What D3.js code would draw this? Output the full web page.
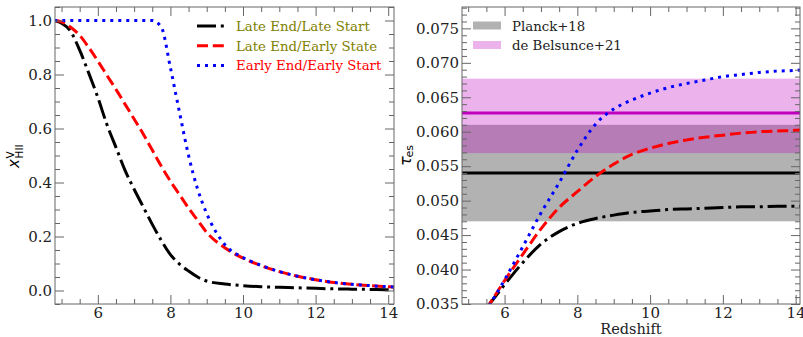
<!DOCTYPE html>
<html>
<meta charset="utf-8">
<title>Reionization histories</title>
<style>
body { margin: 0; background: #fff; }
svg { font-family: "DejaVu Serif", serif; }
.axis path, .axis line { stroke: #666; }
.axis text { font-size: 15px; fill: #222; font-family: "DejaVu Serif", serif; }
</style>
<body>
<svg></svg>
<script src="https://d3js.org/d3.v7.min.js"></script>
<script>

// left panel: volume-averaged ionized fraction
var zLeft = [4.8, 5.0, 5.25, 5.5, 5.75, 6.0, 6.25, 6.5, 6.75, 7.0, 7.25, 7.5, 7.75, 8.0, 8.25, 8.5, 8.75, 9.0, 9.5, 10, 10.5, 11, 11.5, 12, 12.5, 13, 13.5, 14, 14.2];
var xLateLate = [1.0, 0.99, 0.96, 0.89, 0.805, 0.715, 0.615, 0.53, 0.445, 0.375, 0.31, 0.245, 0.185, 0.133, 0.098, 0.072, 0.05, 0.035, 0.024, 0.018, 0.014, 0.012, 0.01, 0.008, 0.006, 0.005, 0.004, 0.003, 0.003];
var xLateEarly = [1.0, 0.995, 0.975, 0.945, 0.9, 0.85, 0.797, 0.745, 0.69, 0.635, 0.58, 0.52, 0.46, 0.405, 0.355, 0.305, 0.26, 0.215, 0.158, 0.12, 0.092, 0.07, 0.053, 0.04, 0.03, 0.023, 0.018, 0.014, 0.013];
var xEarlyEarly = [1.0, 1.0, 1.0, 1.0, 1.0, 1.0, 1.0, 1.0, 1.0, 1.0, 1.0, 1.0, 0.975, 0.825, 0.66, 0.5, 0.375, 0.285, 0.17, 0.122, 0.093, 0.07, 0.053, 0.04, 0.03, 0.023, 0.018, 0.014, 0.013];

// right panel: Thomson optical depth
var zRight = [5.0, 5.5, 6.0, 6.5, 7.0, 7.5, 8.0, 8.5, 9.0, 9.5, 10, 10.5, 11, 11.5, 12, 12.5, 13, 13.5, 14, 14.2];
var tauLateLate = [0.0310, 0.0344, 0.0378, 0.0410, 0.0437, 0.0455, 0.0467, 0.0474, 0.0479, 0.0483, 0.0485, 0.0487, 0.0488, 0.0489, 0.0490, 0.0491, 0.0491, 0.0492, 0.0492, 0.0492];
var tauLateEarly = [0.0305, 0.0343, 0.0384, 0.0422, 0.0459, 0.0490, 0.0513, 0.0535, 0.0553, 0.0567, 0.0576, 0.0583, 0.0588, 0.0592, 0.0595, 0.0598, 0.0600, 0.0601, 0.0602, 0.0603];
var tauEarlyEarly = [0.0298, 0.0341, 0.0385, 0.0433, 0.0482, 0.0526, 0.0573, 0.0611, 0.0633, 0.0646, 0.0656, 0.0664, 0.0670, 0.0675, 0.0680, 0.0683, 0.0686, 0.0688, 0.0689, 0.0690];

// [low, mid, high]
var planck18 = [0.047, 0.054, 0.061];
var belsunce21 = [0.0569, 0.0627, 0.0677];

var seriesNames = ["Late End/Late Start", "Late End/Early State", "Early End/Early Start"];
var seriesColors = ["black", "red", "blue"];
var seriesTextColors = ["#808000", "#808000", "red"];
var seriesDash = ["19,4.8,3,4.8", "11,4.8", "3,5"];
var bandNames = ["Planck+18", "de Belsunce+21"];

var xTicks = [6, 8, 10, 12, 14];
var leftYTicks = [0.0, 0.2, 0.4, 0.6, 0.8, 1.0];
var rightYTicks = [0.035, 0.040, 0.045, 0.050, 0.055, 0.060, 0.065, 0.070, 0.075];

var svg = d3.select("svg").attr("width", 803).attr("height", 337);

var left = {x0: 55, x1: 394, y0: 7, y1: 304};
var right = {x0: 462, x1: 800, y0: 7, y1: 304};

var xL = d3.scaleLinear().domain([4.82, 14.16]).range([left.x0, left.x1]);
var yL = d3.scaleLinear().domain([-0.05, 1.05]).range([left.y1, left.y0]);
var xR = d3.scaleLinear().domain([4.83, 14.12]).range([right.x0, right.x1]);
var yR = d3.scaleLinear().domain([0.035, 0.0781]).range([right.y1, right.y0]);

function range(a, b, step) {
  var out = [];
  for (var v = a; v <= b + 1e-9; v += step) out.push(+v.toFixed(4));
  return out;
}

function frame(p, x, y, yTicks, yMinor, fmt, id) {
  var minorX = range(5, 14, 0.5).filter(function(v) { return xTicks.indexOf(v) < 0; });
  var minorY = yMinor.filter(function(v) {
    return !yTicks.some(function(t) { return Math.abs(t - v) < 1e-7; });
  });
  // minor ticks
  svg.append("g").attr("class", "axis").attr("transform", "translate(0," + p.y1 + ")")
    .call(d3.axisBottom(x).tickValues(minorX).tickSize(-5).tickFormat(""));
  svg.append("g").attr("class", "axis").attr("transform", "translate(0," + p.y0 + ")")
    .call(d3.axisTop(x).tickValues(minorX).tickSize(-5).tickFormat(""));
  svg.append("g").attr("class", "axis").attr("transform", "translate(" + p.x0 + ",0)")
    .call(d3.axisLeft(y).tickValues(minorY).tickSize(-5).tickFormat(""));
  svg.append("g").attr("class", "axis").attr("transform", "translate(" + p.x1 + ",0)")
    .call(d3.axisRight(y).tickValues(minorY).tickSize(-5).tickFormat(""));
  // major ticks
  svg.append("g").attr("class", "axis").attr("transform", "translate(0," + p.y1 + ")")
    .call(d3.axisBottom(x).tickValues(xTicks).tickSize(-9).tickPadding(3).tickFormat(d3.format("d")));
  svg.append("g").attr("class", "axis").attr("transform", "translate(0," + p.y0 + ")")
    .call(d3.axisTop(x).tickValues(xTicks).tickSize(-9).tickFormat(""));
  svg.append("g").attr("class", "axis").attr("transform", "translate(" + p.x0 + ",0)")
    .call(d3.axisLeft(y).tickValues(yTicks).tickSize(-9).tickPadding(3).tickFormat(fmt));
  svg.append("g").attr("class", "axis").attr("transform", "translate(" + p.x1 + ",0)")
    .call(d3.axisRight(y).tickValues(yTicks).tickSize(-9).tickFormat(""));
  svg.selectAll(".axis .domain").remove();
  svg.append("rect").attr("x", p.x0).attr("y", p.y0)
    .attr("width", p.x1 - p.x0).attr("height", p.y1 - p.y0)
    .attr("fill", "none").attr("stroke", "#666").attr("stroke-width", 1);

  svg.append("clipPath").attr("id", id).append("rect")
    .attr("x", p.x0).attr("y", p.y0).attr("width", p.x1 - p.x0).attr("height", p.y1 - p.y0);
}

// ---- right panel bands (drawn under curves)
var gR = svg.append("g");
var bands = [planck18, belsunce21];
var bandFill = ["black", "#bf00bf"];
var bandLine = ["black", "#bf00bf"];

// ---- left panel
var gL = svg.append("g");

frame(left, xL, yL, leftYTicks, range(-0.05, 1.05, 0.05), d3.format(".1f"), "clipL");
frame(right, xR, yR, rightYTicks, range(0.035, 0.078, 0.001), d3.format(".3f"), "clipR");

gL.attr("clip-path", "url(#clipL)");
gR.attr("clip-path", "url(#clipR)");

bands.forEach(function(b, i) {
  gR.append("rect").attr("x", right.x0).attr("width", right.x1 - right.x0)
    .attr("y", yR(b[2])).attr("height", yR(b[0]) - yR(b[2]))
    .attr("fill", bandFill[i]).attr("fill-opacity", 0.3);
});
bands.forEach(function(b, i) {
  gR.append("line").attr("x1", right.x0).attr("x2", right.x1)
    .attr("y1", yR(b[1])).attr("y2", yR(b[1]))
    .attr("stroke", bandLine[i]).attr("stroke-width", 3);
});

var leftSeries = [xLateLate, xLateEarly, xEarlyEarly];
var rightSeries = [tauLateLate, tauLateEarly, tauEarlyEarly];

leftSeries.forEach(function(vals, i) {
  var line = d3.line().x(function(d, j) { return xL(zLeft[j]); })
    .y(function(d) { return yL(d); }).curve(d3.curveMonotoneX);
  gL.append("path").datum(vals).attr("d", line)
    .attr("fill", "none").attr("stroke", seriesColors[i]).attr("stroke-width", 3)
    .attr("stroke-dasharray", seriesDash[i]);
});

rightSeries.forEach(function(vals, i) {
  var line = d3.line().x(function(d, j) { return xR(zRight[j]); })
    .y(function(d) { return yR(d); }).curve(d3.curveMonotoneX);
  gR.append("path").datum(vals).attr("d", line)
    .attr("fill", "none").attr("stroke", seriesColors[i]).attr("stroke-width", 3)
    .attr("stroke-dasharray", seriesDash[i]);
});

// left legend
seriesNames.forEach(function(name, i) {
  var yy = 26 + i * 19.7;
  svg.append("line").attr("x1", 197).attr("x2", 224).attr("y1", yy).attr("y2", yy)
    .attr("stroke", seriesColors[i]).attr("stroke-width", 3)
    .attr("stroke-dasharray", seriesDash[i]);
  svg.append("text").attr("x", 236).attr("y", yy + 5)
    .attr("fill", seriesTextColors[i]).style("font-size", "13.3px").text(name);
});

// right legend
bandNames.forEach(function(name, i) {
  var yy = 25.5 + i * 19.5;
  svg.append("rect").attr("x", 473).attr("y", yy - 4).attr("width", 28).attr("height", 8)
    .attr("fill", bandFill[i]).attr("fill-opacity", 0.3);
  svg.append("text").attr("x", 512).attr("y", yy + 5)
    .attr("fill", "#222").style("font-size", "13.3px").text(name);
});

// axis labels
var yl = svg.append("g").attr("transform", "translate(19,168) rotate(-90)")
  .style("font-family", "'DejaVu Sans', sans-serif");
yl.append("text").attr("x", 0).attr("y", 0).style("font-size", "15px").style("font-style", "italic").text("x");
yl.append("text").attr("x", 9.5).attr("y", -5).style("font-size", "10.5px").text("V");
yl.append("text").attr("x", 9.5).attr("y", 4).style("font-size", "10.5px").text("HII");

var yr = svg.append("g").attr("transform", "translate(411,166) rotate(-90)")
  .style("font-family", "'DejaVu Sans', sans-serif");
yr.append("text").attr("x", 0).attr("y", 0).style("font-size", "16px").style("font-style", "italic").text("τ");
yr.append("text").attr("x", 8.5).attr("y", 2).style("font-size", "11px").text("es");

svg.append("text").attr("x", (right.x0 + right.x1) / 2).attr("y", 334)
  .attr("text-anchor", "middle").style("font-size", "14.5px").attr("fill", "#222").text("Redshift");

</script>
</body>
</html>
